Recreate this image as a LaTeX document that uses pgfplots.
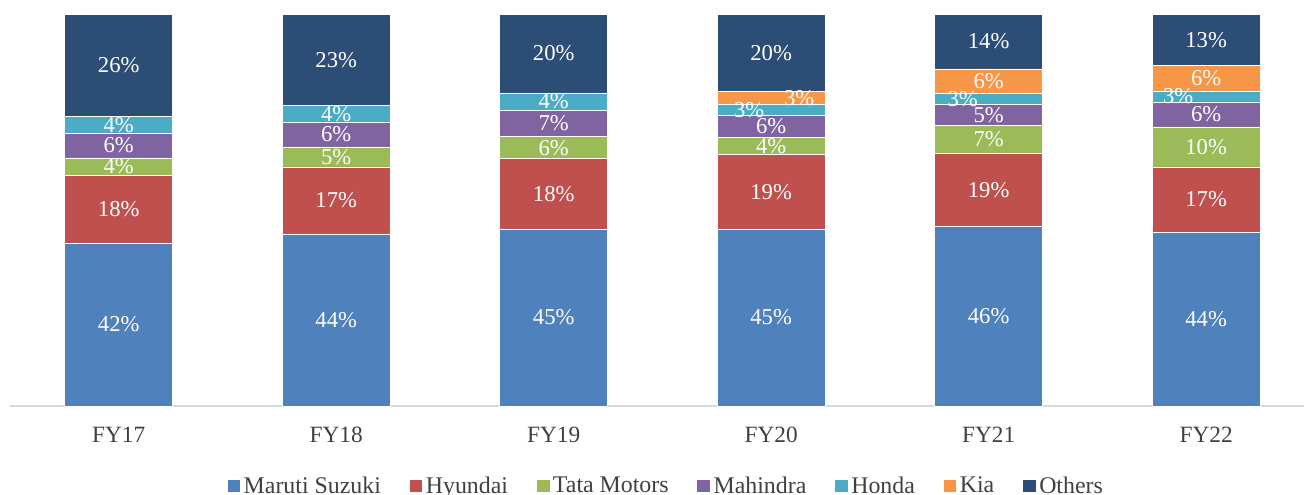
\documentclass[border=0pt]{standalone}
\usepackage{fontspec}
\setmainfont{Liberation Serif}
\usepackage{pgfplots}
\pgfplotsset{compat=1.18}
\definecolor{cMaruti}{HTML}{4F81BD}
\definecolor{cHyundai}{HTML}{C0504D}
\definecolor{cTata}{HTML}{9BBB59}
\definecolor{cMahindra}{HTML}{8064A2}
\definecolor{cHonda}{HTML}{4BACC6}
\definecolor{cKia}{HTML}{F79646}
\definecolor{cOthers}{HTML}{2C4D75}
\definecolor{axgray}{HTML}{D9D9D9}
\definecolor{txgray}{HTML}{404040}
\protected\def\pc{\%}
\protected\def\nolab{}
\protected\def\sh#1#2{\hspace*{#1pt}#2\hspace*{-#1pt}}
\pgfplotsset{sq legend/.style={legend image code/.code={\fill[##1,draw=none] (0pt,-4.7pt) rectangle (9.5pt,4.7pt);}}}
\begin{document}
\begin{tikzpicture}
\path[use as bounding box] (-7.5pt,-66pt) rectangle (970.5pt,304.5pt);
\begin{axis}[
  at={(0pt,0pt)}, anchor=south west,
  scale only axis, width=970.5pt, height=294pt,
  ybar stacked, bar width=81pt,
  xmin=-0.5, xmax=5.45, ymin=0, ymax=100,
  axis y line=none, axis x line*=bottom,
  x axis line style={draw=axgray, line width=0.9pt},
  xtick={0,1,2,3,4,5},
  xticklabels={FY17,FY18,FY19,FY20,FY21,FY22},
  xtick style={draw=none},
  x tick label style={anchor=center, yshift=-21.75pt, text=txgray, font=\fontsize{17.5}{17.5}\selectfont},
  nodes near coords, point meta=explicit symbolic,
  every node near coord/.append style={text=white, font=\fontsize{17}{17}\selectfont},
  legend columns=-1,
  legend style={at={(0.5077,0)}, anchor=center, yshift=-60pt, draw=none, fill=none,
    font=\fontsize{17.9}{17.9}\selectfont, text=txgray,
    /tikz/every odd column/.append style={column sep=0pt},
    /tikz/every even column/.append style={column sep=19pt},
    /tikz/every node/.append style={inner xsep=2.6pt}},
  clip=false,
]
\addplot[fill=cMaruti, draw=white, line width=0.4pt, sq legend] coordinates {
 (0,41.6) [42\pc] (1,43.9) [44\pc] (2,45.2) [45\pc] (3,45.2) [45\pc] (4,45.9) [46\pc] (5,44.4) [44\pc]};
\addplot[fill=cHyundai, draw=white, line width=0.4pt, sq legend] coordinates {
 (0,17.3) [18\pc] (1,17.1) [17\pc] (2,17.9) [18\pc] (3,18.9) [19\pc] (4,18.6) [19\pc] (5,16.6) [17\pc]};
\addplot[fill=cTata, draw=white, line width=0.4pt, sq legend] coordinates {
 (0,4.4) [4\pc] (1,5.1) [5\pc] (2,5.6) [6\pc] (3,4.4) [4\pc] (4,7.1) [7\pc] (5,10.2) [10\pc]};
\addplot[fill=cMahindra, draw=white, line width=0.4pt, sq legend] coordinates {
 (0,6.4) [6\pc] (1,6.4) [6\pc] (2,6.8) [7\pc] (3,5.6) [6\pc] (4,5.4) [5\pc] (5,6.4) [6\pc]};
\addplot[fill=cHonda, draw=white, line width=0.4pt, sq legend] coordinates {
 (0,4.1) [4\pc] (1,4.1) [4\pc] (2,4.4) [4\pc] (3,2.8) [\sh{-16.5}{3\pc}] (4,2.7) [\sh{-19.5}{3\pc}] (5,2.8) [\sh{-21}{3\pc}]};
\addplot[fill=cKia, draw=white, line width=0.4pt, sq legend] coordinates {
 (0,0) [\nolab] (1,0) [\nolab] (2,0) [\nolab] (3,3.4) [\sh{21}{3\pc}] (4,6.3) [6\pc] (5,6.5) [6\pc]};
\addplot[fill=cOthers, draw=white, line width=0.4pt, sq legend] coordinates {
 (0,26.2) [26\pc] (1,23.4) [23\pc] (2,20.1) [20\pc] (3,19.7) [20\pc] (4,14.0) [14\pc] (5,13.1) [13\pc]};
\legend{Maruti Suzuki,Hyundai,Tata Motors,Mahindra,Honda,Kia,Others}
\end{axis}
\end{tikzpicture}
\end{document}
